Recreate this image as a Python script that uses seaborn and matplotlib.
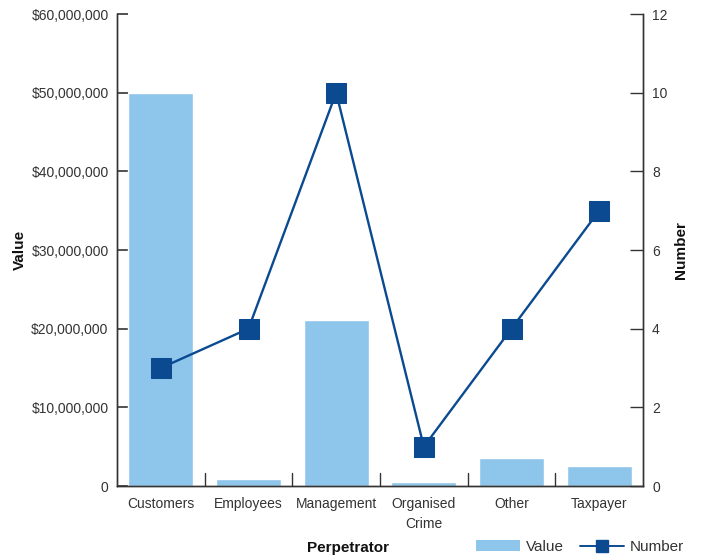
import matplotlib
matplotlib.use("Agg")
import matplotlib.pyplot as plt
import seaborn as sns
import pandas as pd
from matplotlib.ticker import FuncFormatter, MultipleLocator
from matplotlib.lines import Line2D
from matplotlib.patches import Patch

categories = ["Customers", "Employees", "Management", "Organised\nCrime", "Other", "Taxpayer"]
values = [50_000_000, 900_000, 21_100_000, 550_000, 3_550_000, 2_550_000]
numbers = [3, 4, 10, 1, 4, 7]

sns.set_theme(style="white")
plt.rcParams['font.family'] = ['Liberation Sans', 'DejaVu Sans']
text_color = "#333333"
bar_color = "#8EC5EB"
line_color = "#0B4A91"
fs = 10

df = pd.DataFrame({"Perpetrator": categories, "Value": values, "Number": numbers})

fig = plt.figure(figsize=(7.02, 5.58), dpi=100)
ax = fig.add_axes([117/702, 1-486/558, (643-117)/702, (486-14)/558])
sns.barplot(data=df, x="Perpetrator", y="Value", color=bar_color, width=0.74,
            saturation=1, ax=ax)
ax.set_ylim(0, 60_000_000)
ax.set_xlim(-0.5, 5.5)
ax.yaxis.set_major_locator(MultipleLocator(10_000_000))
ax.yaxis.set_major_formatter(FuncFormatter(lambda v, p: "0" if v == 0 else f"${v:,.0f}"))

ax2 = ax.twinx()
sns.lineplot(data=df, x="Perpetrator", y="Number", color=line_color, marker="s",
             markersize=15, linewidth=1.7, markeredgecolor=line_color, ax=ax2)
ax2.set_ylim(0, 12)
ax2.yaxis.set_major_locator(MultipleLocator(2))

for a in (ax, ax2):
    for s in a.spines.values():
        s.set_color("#333333")
        s.set_linewidth(1.0)
    a.spines["top"].set_visible(False)
    a.tick_params(colors=text_color, labelsize=fs)

ax.tick_params(axis="y", direction="in", length=8, width=1.2, color="#333333", pad=6)
ax2.tick_params(axis="y", direction="in", length=9.5, width=1, color="#333333", pad=6.5)
ax.set_xticks([i for i in range(6)])
ax.set_xticklabels(categories, color=text_color, fontsize=fs, linespacing=1.5)
ax.tick_params(axis="x", length=0, pad=8)
for b in [0.5, 1.5, 2.5, 3.5, 4.5]:
    ax.axvline(b, ymin=0, ymax=0.027, color="#333333", lw=1)

ax.set_ylabel("Value", fontsize=11, fontweight="bold", color="#111111")
ax.yaxis.set_label_coords(-0.172, 0.5)
ax2.set_ylabel("Number", fontsize=11, fontweight="bold", color="#111111")
ax2.yaxis.set_label_coords(1.058, 0.5)
ax.set_xlabel("")
ax2.set_xlabel("")
fig.text(348/702, 1-548/558, "Perpetrator", ha="center", va="center",
         fontsize=11, fontweight="bold", color="#111111")

handles = [Patch(facecolor=bar_color, edgecolor="none", label="Value"),
           Line2D([0], [0], color=line_color, marker="s", markersize=9, lw=1.4, label="Number")]
fig.legend(handles=handles, loc="center", bbox_to_anchor=(580/702, 1-547/558), ncol=2,
           frameon=False, fontsize=11, handlelength=2.9, columnspacing=1.0,
           handletextpad=0.4, labelcolor=text_color)

fig.savefig("out.png", dpi=100)
